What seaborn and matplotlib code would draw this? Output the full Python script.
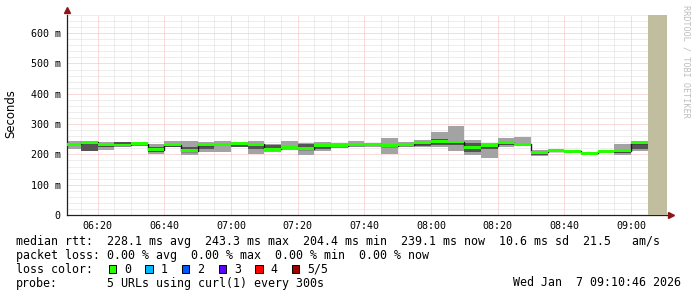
import matplotlib
matplotlib.use("Agg")
import numpy as np
import pandas as pd
import matplotlib.pyplot as plt
import seaborn as sns
from matplotlib.patches import Rectangle

# ---------------- data (RTT in ms, one row per 5-minute step) ----------------
bin_times = ["06:10", "06:15", "06:20", "06:25", "06:30", "06:35", "06:40", "06:45",
             "06:50", "06:55", "07:00", "07:05", "07:10", "07:15", "07:20", "07:25",
             "07:30", "07:35", "07:40", "07:45", "07:50", "07:55", "08:00", "08:05",
             "08:10", "08:15", "08:20", "08:25", "08:30", "08:35", "08:40", "08:45",
             "08:50", "08:55", "09:00"]
rtt_min = [218, 211, 216, 225, 228, 201, 223, 198, 207, 207, 223, 201, 209, 215, 198, 212,
           220, 223, 225, 201, 223, 223, 223, 212, 198, 189, 223, 232, 196, 207, 206, 203,
           210, 198, 211]
rtt_lo = [228, 212, 226, 234, 232, 207, 223, 209, 218, 228, 223, 218, 220, 218, 223, 218,
          225, 229, 230, 229, 231, 228, 232, 231, 208, 218, 231, 232, 199, 209, 208, 203,
          212, 205, 218]
rtt_med = [234, 240, 232, 231, 235, 215, 231, 212, 232, 233, 237, 234, 217, 223, 219, 228,
           229, 232, 233, 229, 232, 239, 242, 241, 223, 228, 239, 234, 207, 212, 210, 204,
           210, 212, 239]
rtt_hi = [238, 238, 237, 242, 237, 223, 234, 223, 228, 236, 234, 234, 231, 226, 234, 223,
          232, 238, 236, 231, 238, 238, 251, 238, 238, 234, 235, 236, 212, 214, 213, 206,
          214, 216, 237]
rtt_max = [245, 243, 242, 242, 239, 234, 245, 245, 240, 245, 242, 245, 234, 245, 239, 242,
           239, 245, 239, 255, 242, 248, 275, 295, 248, 237, 255, 259, 214, 214, 214, 206,
           214, 234, 245]
unknown_start = "09:05"
view_start = "06:10:46"
view_end = "09:10:46"

x_tick_labels = ["06:20", "06:40", "07:00", "07:20", "07:40", "08:00", "08:20", "08:40", "09:00"]
y_tick_values = [0, 100, 200, 300, 400, 500, 600]
y_tick_labels = ["0", "100 m", "200 m", "300 m", "400 m", "500 m", "600 m"]

loss_labels = ["0", "1", "2", "3", "4", "5/5"]
loss_colors = ["#26ff00", "#00b8ff", "#0059ff", "#5e00ff", "#ff0000", "#a00000"]

legend_rtt = "median rtt:  228.1 ms avg  243.3 ms max  204.4 ms min  239.1 ms now  10.6 ms sd  21.5   am/s"
legend_loss = "packet loss: 0.00 % avg  0.00 % max  0.00 % min  0.00 % now"
legend_probe_key = "probe:"
legend_probe = "5 URLs using curl(1) every 300s"
legend_stamp = "Wed Jan  7 09:10:46 2026"
watermark = "RRDTOOL / TOBI OETIKER"


def to_min(s):
    p = [int(v) for v in s.split(":")]
    while len(p) < 3:
        p.append(0)
    return (p[0] - 6) * 60 + p[1] + p[2] / 60.0


df = pd.DataFrame({"t": [to_min(s) for s in bin_times], "mn": rtt_min, "lo": rtt_lo,
                   "med": rtt_med, "hi": rtt_hi, "mx": rtt_max})
step = 5.0
xe = np.append(df["t"].values, df["t"].values[-1] + step)


def ext(col):
    v = df[col].values.astype(float)
    return np.append(v, v[-1])


sns.set_style("white")
plt.rcParams["font.family"] = ["DejaVu Sans"]

W, H = 697, 297
fig = plt.figure(figsize=(W / 100, H / 100), dpi=100, facecolor="white")
ax = fig.add_axes([67 / W, 82 / H, 600 / W, 200 / H])
ax.set_facecolor("white")

# smoke
ax.fill_between(xe, ext("mn"), ext("mx"), step="post", color="#a3a3a3", lw=0, zorder=2)
ax.fill_between(xe, ext("lo"), ext("hi"), step="post", color="#545454", lw=0, zorder=3)
# median line
sns.lineplot(x=xe, y=ext("med"), drawstyle="steps-post", color="#1a1a1a", lw=1,
             estimator=None, ax=ax, zorder=4)
# loss-coloured median band
sw = 4.8
ax.bar(df["t"], 2 * sw, bottom=df["med"] - sw, width=step, align="edge",
       color=loss_colors[0], lw=0, zorder=5)
# unknown area
ax.axvspan(to_min(unknown_start), to_min(view_end), color="#c1be9f", lw=0, zorder=6)

ax.set_xlim(to_min(view_start), to_min(view_end))
ax.set_ylim(0, 660)

xt = [to_min(s) for s in x_tick_labels]
ax.set_xticks(xt)
ax.set_xticklabels(x_tick_labels)
ax.set_xticks(np.arange(15, 190, 5), minor=True)
ax.set_yticks(y_tick_values)
ax.set_yticklabels(y_tick_labels)
ax.set_yticks(np.arange(20, 661, 20), minor=True)

ax.set_axisbelow(True)
ax.grid(which="minor", color="#dcdcdc", ls=(0, (1, 1)), lw=0.72, zorder=0)
ax.grid(which="major", color="#f4b8b8", ls=(0, (1, 1)), lw=0.72, zorder=1)

for s in ["top", "right"]:
    ax.spines[s].set_visible(False)
for s in ["left", "bottom"]:
    ax.spines[s].set_color("#202020")
    ax.spines[s].set_linewidth(0.9)

ax.tick_params(axis="both", which="major", length=2, width=0.7, color="#202020",
               direction="out", labelsize=7.2, pad=2.5)
ax.tick_params(axis="both", which="minor", length=1.2, width=0.7, color="#202020",
               direction="out")
for lab in ax.get_xticklabels() + ax.get_yticklabels():
    lab.set_family("DejaVu Sans Mono")
    lab.set_color("black")

# arrows
ax.plot([0], [1.025], marker="^", ms=4.5, color="#8e1515", transform=ax.transAxes,
        clip_on=False, zorder=10)
ax.plot([1.006], [0], marker=">", ms=4.5, color="#8e1515", transform=ax.transAxes,
        clip_on=False, zorder=10)

# y label
fig.text(11 / W, 1 - 114 / H, "Seconds", rotation=90, ha="center", va="center",
         fontsize=8.4, color="black", family="DejaVu Sans")
# watermark
fig.text(686 / W, 1 - 5 / H, watermark, rotation=270, ha="center", va="top",
         fontsize=6.1, color="#bdbdbd", family="DejaVu Sans Mono")

mono = dict(family="DejaVu Sans Mono", fontsize=8.4, color="black", va="center")
fig.text(16 / W, 1 - 242 / H, legend_rtt, **mono)
fig.text(16 / W, 1 - 255.5 / H, legend_loss, **mono)
fig.text(16 / W, 1 - 269.5 / H, "loss color:", **mono)
for i, (lab, col) in enumerate(zip(loss_labels, loss_colors)):
    x0 = 108.7 + i * 36.67
    fig.patches.append(Rectangle((x0 / W, 1 - 272.7 / H), 7.3 / W, 7.3 / H,
                                 transform=fig.transFigure, facecolor=col,
                                 edgecolor="black", lw=0.7))
    fig.text((x0 + 15.3) / W, 1 - 269.5 / H, lab, **mono)
fig.text(16 / W, 1 - 283 / H, legend_probe_key, **mono)
fig.text(107.3 / W, 1 - 283 / H, legend_probe, **mono)
fig.text(681 / W, 1 - 283 / H, legend_stamp, ha="right", **mono)

fig.savefig("out.png", dpi=100, facecolor="white")
